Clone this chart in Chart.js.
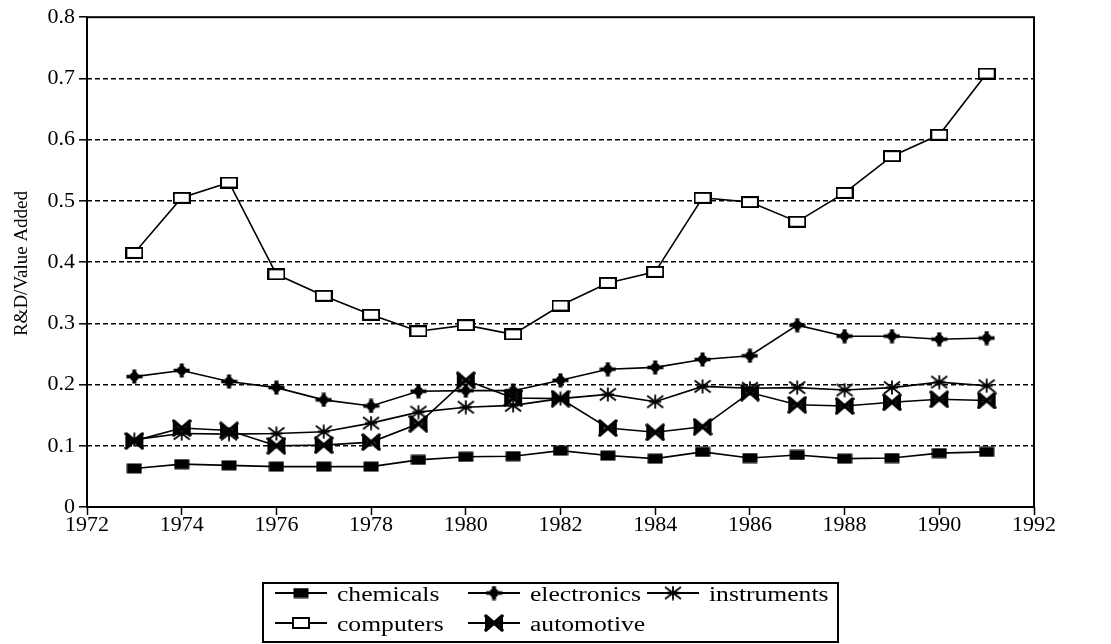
<!DOCTYPE html>
<html>
<head>
<meta charset="utf-8">
<title>R&amp;D / Value Added</title>
<script src="https://cdn.jsdelivr.net/npm/chart.js@4/dist/chart.umd.min.js"></script>
<style>
  html, body { margin: 0; padding: 0; background: #fff; }
  canvas { display: block; }
</style>
</head>
<body>
<canvas id="chart" width="1111" height="644"></canvas>
<script>
// values
const years = [1973, 1974, 1975, 1976, 1977, 1978, 1979, 1980, 1981, 1982,
               1983, 1984, 1985, 1986, 1987, 1988, 1989, 1990, 1991];
const chemicals   = [0.063, 0.070, 0.068, 0.066, 0.066, 0.066, 0.077, 0.082, 0.083, 0.092,
                     0.084, 0.079, 0.090, 0.080, 0.085, 0.079, 0.080, 0.088, 0.090];
const electronics = [0.213, 0.223, 0.205, 0.195, 0.175, 0.165, 0.189, 0.190, 0.190, 0.207,
                     0.225, 0.228, 0.241, 0.247, 0.297, 0.279, 0.279, 0.274, 0.276];
const instruments = [0.110, 0.120, 0.119, 0.120, 0.123, 0.137, 0.155, 0.163, 0.166, 0.177,
                     0.184, 0.172, 0.197, 0.194, 0.195, 0.191, 0.195, 0.204, 0.198];
const computers   = [0.415, 0.505, 0.530, 0.380, 0.345, 0.314, 0.287, 0.297, 0.282, 0.329,
                     0.366, 0.384, 0.505, 0.498, 0.466, 0.513, 0.573, 0.608, 0.708];
const automotive  = [0.108, 0.129, 0.125, 0.100, 0.101, 0.106, 0.136, 0.207, 0.178, 0.177,
                     0.129, 0.122, 0.131, 0.187, 0.167, 0.165, 0.171, 0.176, 0.174];
const yTicks = [0, 0.1, 0.2, 0.3, 0.4, 0.5, 0.6, 0.7, 0.8];
const xTicks = [1972, 1974, 1976, 1978, 1980, 1982, 1984, 1986, 1988, 1990, 1992];

const FONT = "'Liberation Serif', 'Times New Roman', serif";

// little canvases used as point styles (and in the legend)
function makeMarker(w, h, draw) {
    const c = document.createElement('canvas');
    c.width = w; c.height = h;
    const g = c.getContext('2d');
    g.translate(w / 2, h / 2);
    g.fillStyle = '#000';
    g.strokeStyle = '#000';
    draw(g);
    return c;
}

const markers = {
    chemicals: makeMarker(16, 11, g => {
        g.fillRect(-7.5, -5, 15, 10);
    }),
    computers: makeMarker(18, 12, g => {
        g.fillStyle = '#fff';
        g.fillRect(-8, -5, 16, 10);
        g.lineWidth = 2;
        g.strokeRect(-8, -5, 16, 10);
    }),
    electronics: makeMarker(17, 15, g => {
        g.fillRect(-8, -1.8, 16, 3.6);
        g.fillRect(-2, -7, 4, 14);
        g.beginPath();
        g.arc(0, 0, 4.5, 0, Math.PI * 2);
        g.fill();
    }),
    instruments: makeMarker(18, 15, g => {
        g.lineWidth = 1.8;
        g.beginPath();
        g.moveTo(0, -7); g.lineTo(0, 7);
        g.moveTo(-8, -6); g.lineTo(8, 6);
        g.moveTo(-8, 6); g.lineTo(8, -6);
        g.moveTo(-6, 0); g.lineTo(6, 0);
        g.stroke();
    }),
    automotive: makeMarker(20, 18, g => {
        g.beginPath();
        g.moveTo(-9, -7.5); g.lineTo(-3, 0); g.lineTo(-9, 7.5); g.closePath();
        g.moveTo(9, -7.5); g.lineTo(3, 0); g.lineTo(9, 7.5); g.closePath();
        g.fill();
        g.lineWidth = 3.5;
        g.lineCap = 'round';
        g.beginPath();
        g.moveTo(-8, -7); g.lineTo(8, 7);
        g.moveTo(-8, 7); g.lineTo(8, -7);
        g.stroke();
    })
};

const seriesValues = { chemicals, electronics, instruments, computers, automotive };
const drawOrder = ['computers', 'electronics', 'instruments', 'automotive', 'chemicals'];

const datasets = drawOrder.map(name => ({
    label: name,
    data: years.map((y, i) => ({ x: y, y: seriesValues[name][i] })),
    borderColor: '#000',
    borderWidth: 1.6,
    pointStyle: markers[name],
    pointRadius: 8,
    pointHoverRadius: 8,
    tension: 0,
    fill: false
}));

// frame, y title and the boxed legend are drawn by hand
const extras = {
    id: 'extras',
    beforeDatasetsDraw(chart) {
        const { ctx, chartArea: a } = chart;
        ctx.save();
        ctx.strokeStyle = '#000';
        ctx.lineWidth = 2;
        ctx.strokeRect(a.left, a.top, a.right - a.left, a.bottom - a.top);
        ctx.restore();
    },
    afterDraw(chart) {
        const ctx = chart.ctx;
        ctx.save();
        ctx.fillStyle = '#000';

        // y axis title
        ctx.save();
        ctx.translate(27, 263.5);
        ctx.rotate(-Math.PI / 2);
        ctx.font = '19px ' + FONT;
        ctx.textAlign = 'center';
        ctx.textBaseline = 'alphabetic';
        ctx.fillText('R&D/Value Added', 0, 0);
        ctx.restore();

        // legend box
        ctx.strokeStyle = '#000';
        ctx.lineWidth = 2;
        ctx.strokeRect(263, 583, 838 - 263, 642 - 583);

        const items = [
            { name: 'chemicals', cx: 301, cy: 593 },
            { name: 'electronics', cx: 494, cy: 593 },
            { name: 'instruments', cx: 673, cy: 593 },
            { name: 'computers', cx: 301, cy: 623 },
            { name: 'automotive', cx: 494, cy: 623 }
        ];
        items.forEach(it => {
            ctx.lineWidth = 1.8;
            ctx.beginPath();
            ctx.moveTo(it.cx - 26, it.cy);
            ctx.lineTo(it.cx + 26, it.cy);
            ctx.stroke();
            const m = markers[it.name];
            ctx.drawImage(m, it.cx - m.width / 2, it.cy - m.height / 2);

            ctx.save();
            ctx.translate(it.cx + 36, it.cy + 8);
            ctx.scale(1.28, 1);
            ctx.font = '20px ' + FONT;
            ctx.textAlign = 'left';
            ctx.textBaseline = 'alphabetic';
            ctx.fillText(it.name, 0, 0);
            ctx.restore();
        });
        ctx.restore();
    }
};

new Chart(document.getElementById('chart'), {
    type: 'line',
    data: { datasets },
    options: {
        responsive: false,
        animation: false,
        devicePixelRatio: 1,
        layout: { padding: { top: 17, right: 77, left: 0, bottom: 0 } },
        plugins: {
            legend: { display: false },
            tooltip: { enabled: false }
        },
        scales: {
            x: {
                type: 'linear',
                min: 1972,
                max: 1992,
                afterBuildTicks: s => { s.ticks = xTicks.map(v => ({ value: v })); },
                afterFit: s => { s.height = 644 - 507; },
                ticks: {
                    color: '#000',
                    font: { family: FONT, size: 22 },
                    padding: -3,
                    maxRotation: 0,
                    callback: v => String(v)
                },
                grid: {
                    drawOnChartArea: false,
                    drawTicks: true,
                    tickLength: 8,
                    tickColor: '#000',
                    tickWidth: 1.5
                },
                border: { display: false }
            },
            y: {
                min: 0,
                max: 0.8,
                afterBuildTicks: s => { s.ticks = yTicks.map(v => ({ value: v })); },
                afterFit: s => { s.width = 87; },
                ticks: {
                    color: '#000',
                    font: { family: FONT, size: 22 },
                    padding: 4,
                    callback: v => (v === 0 ? '0' : v.toFixed(1))
                },
                grid: {
                    color: c => (c.tick && (c.tick.value === 0 || c.tick.value === 0.8)) ? 'rgba(0,0,0,0)' : '#000',
                    lineWidth: 1.6,
                    drawTicks: true,
                    tickLength: 8,
                    tickColor: '#000',
                    tickWidth: 1.5
                },
                border: { display: false, dash: [5, 3] }
            }
        }
    },
    plugins: [extras]
});
</script>
</body>
</html>
